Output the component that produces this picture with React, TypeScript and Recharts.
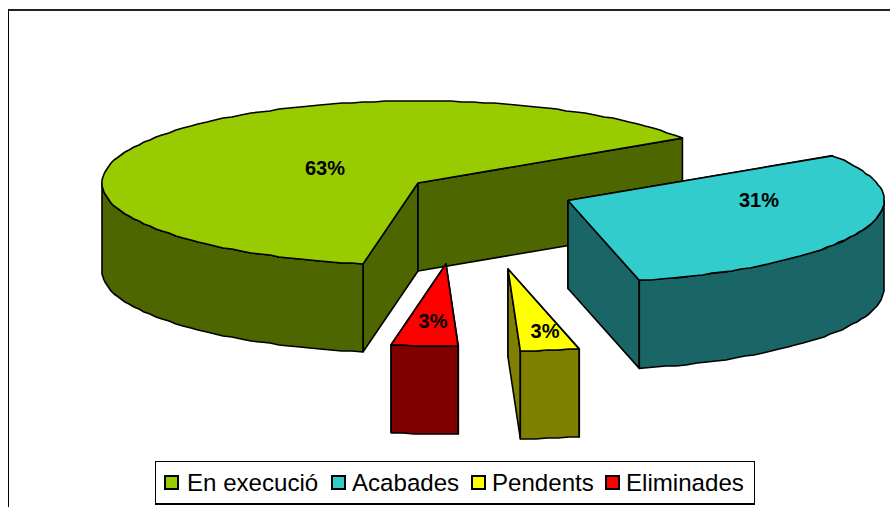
import { PieChart, Pie, Legend } from 'recharts';

const categories = ['En execució', 'Acabades', 'Pendents', 'Eliminades'];
const shares = [63, 30.6, 3, 3.4];

const TOP_COLORS = ['#99cc00', '#33cccc', '#ffff00', '#ff0000'];
const WALL_COLORS = ['#4d6600', '#1a6666', '#808000', '#800000'];

// exploded slices: shift of each apex from the pie centre, in px
const SHIFT_X = [-71, 79, 19, -43];
const SHIFT_Y = [-12, 5.5, 74, 69];
const LABEL_X = [325, 759, 433, 545];
const LABEL_Y = [168, 200, 321, 331];
const LEGEND_X = [9, 176, 316, 450];
const LEGEND_GAP = [8, 6, 6, 6];

const SQUASH = 82 / 316;
const DEPTH = 88;
const ARC_STEP = 2;
const RAD = Math.PI / 180;

const data = categories.map((name, i) => ({ name, value: shares[i], fill: TOP_COLORS[i] }));

function arcPoints(ax: number, ay: number, r: number, from: number, to: number) {
  const pts: [number, number][] = [];
  for (let a = from; a > to; a -= ARC_STEP) {
    pts.push([Math.round(ax + r * Math.cos(a * RAD)), Math.round(ay - r * SQUASH * Math.sin(a * RAD))]);
  }
  pts.push([ax + r * Math.cos(to * RAD), ay - r * SQUASH * Math.sin(to * RAD)]);
  return pts;
}

const toPath = (pts: [number, number][]) => 'M' + pts.map((p) => p.join(',')).join('L') + 'Z';

function Slice3D(props: any) {
  const { cx, cy, outerRadius: r, startAngle, endAngle, name } = props;
  const i = categories.indexOf(name);
  const ax = cx + SHIFT_X[i];
  const ay = cy + SHIFT_Y[i];
  const rim = (a: number): [number, number] => [ax + r * Math.cos(a * RAD), ay - r * SQUASH * Math.sin(a * RAD)];
  const radialWall = (a: number) => {
    const [x, y] = rim(a);
    return toPath([[ax, ay], [x, y], [x, y + DEPTH], [ax, ay + DEPTH]]);
  };

  // only the part of the rim facing the viewer gets an outer wall
  const hi = startAngle > 180 ? startAngle : Math.min(startAngle, 0);
  const lo = startAngle > 180 ? Math.max(endAngle, 180) : endAngle;
  const front = arcPoints(ax, ay, r, hi, lo);
  const outerWall = toPath([...front, ...[...front].reverse().map(([x, y]): [number, number] => [x, y + DEPTH])]);
  const top = toPath([[ax, ay], ...arcPoints(ax, ay, r, startAngle, endAngle)]);

  const line = { stroke: '#000', strokeWidth: 1.6, strokeLinejoin: 'round' as const };
  return (
    <g>
      <path d={radialWall(startAngle)} fill={WALL_COLORS[i]} {...line} />
      <path d={radialWall(endAngle)} fill={WALL_COLORS[i]} {...line} />
      <path d={outerWall} fill={WALL_COLORS[i]} {...line} />
      <path d={top} fill={TOP_COLORS[i]} {...line} />
    </g>
  );
}

function renderLabel(props: any) {
  const i = props.index;
  return (
    <text
      x={LABEL_X[i]}
      y={LABEL_Y[i]}
      textAnchor="middle"
      dominantBaseline="central"
      fontFamily="Liberation Sans"
      fontWeight="bold"
      fontSize={20}
      fill="#000"
    >
      {`${Math.round(shares[i])}%`}
    </text>
  );
}

function LegendBox() {
  return (
    <div
      style={{
        position: 'relative',
        boxSizing: 'border-box',
        width: 600,
        height: 44,
        border: '1px solid #000',
        borderBottomWidth: 2,
        background: '#fff',
        fontFamily: 'Liberation Sans',
        fontSize: 24.1,
        color: '#000',
      }}
    >
      {categories.map((name, i) => (
        <span
          key={name}
          style={{ position: 'absolute', left: LEGEND_X[i] - 1, top: 0, height: 41, display: 'flex', alignItems: 'center' }}
        >
          <span
            style={{
              boxSizing: 'border-box',
              width: 15,
              height: 15,
              border: '2px solid #000',
              background: TOP_COLORS[i],
              marginRight: LEGEND_GAP[i],
            }}
          />
          {name}
        </span>
      ))}
    </div>
  );
}

export default function App() {
  return (
    <div style={{ position: 'absolute', left: 0, top: 0, width: 890, height: 507, overflow: 'hidden', background: '#fff' }}>
      <div style={{ position: 'absolute', left: 8, top: 9, width: 882, height: 2, background: '#222' }} />
      <div style={{ position: 'absolute', left: 8, top: 9, width: 1, height: 498, background: '#000' }} />
      <div style={{ position: 'absolute', left: 0, top: 0 }}>
        <PieChart width={890} height={507} margin={{ top: 0, right: 0, bottom: 0, left: 0 }}>
          <Pie
            data={data}
            dataKey="value"
            nameKey="name"
            cx={489}
            cy={195}
            innerRadius={0}
            outerRadius={316}
            startAngle={260}
            endAngle={-100}
            stroke="#000"
            shape={Slice3D}
            label={renderLabel}
            labelLine={false}
            isAnimationActive={false}
          />
          <Legend
            content={LegendBox}
            wrapperStyle={{ position: 'absolute', left: 155, top: 461, width: 600, height: 44, bottom: 'auto' }}
          />
        </PieChart>
      </div>
    </div>
  );
}
